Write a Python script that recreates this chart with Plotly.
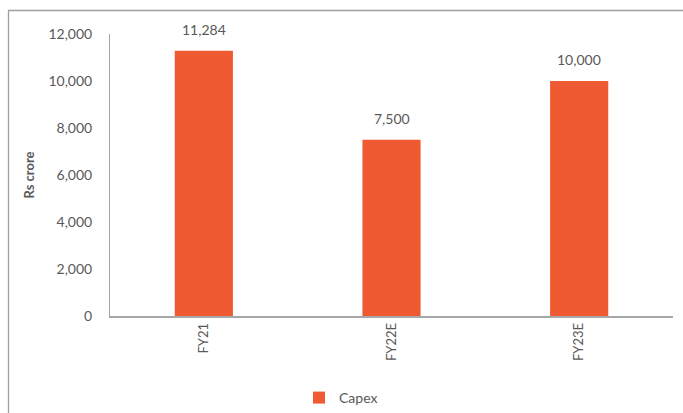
import plotly.graph_objects as go

categories = ["FY21", "FY22E", "FY23E"]
capex = [11284, 7500, 10000]
value_labels = ["11,284", "7,500", "10,000"]
series_name = "Capex"

W, H = 683, 413
ml, mr, mt, mb = 110, 10, 34, 97
pw = W - ml - mr
ph = H - mt - mb

def px_x(x):
    return (x - ml) / pw

def px_y(y):
    return (H - mb - y) / ph

FONT = "Lato"
GRAY = "#595959"
BORDER = "#A0A0A0"

fig = go.Figure()
fig.add_trace(go.Bar(
    x=categories, y=capex, name=series_name,
    marker=dict(color="#F05A32", line=dict(width=0)),
))

for c, v, t in zip(categories, capex, value_labels):
    fig.add_annotation(x=c, y=v, text=t, showarrow=False,
                       yanchor="bottom", yshift=11,
                       font=dict(family=FONT, size=14, color=GRAY))

fig.update_layout(
    width=W, height=H,
    margin=dict(l=ml, r=mr, t=mt, b=mb, autoexpand=False),
    paper_bgcolor="white", plot_bgcolor="white",
    bargap=0.69,
    font=dict(family=FONT, size=14, color=GRAY),
    showlegend=True,
    legend=dict(orientation="h", x=px_x(341), xanchor="center",
                y=px_y(398), yanchor="middle",
                font=dict(family=FONT, size=14, color=GRAY),
                itemwidth=30),
    xaxis=dict(showline=True, linecolor="#A6A6A6", linewidth=1.5,
               tickangle=-90, ticks="", showgrid=False, automargin=False,
               tickfont=dict(family=FONT, size=13, color=GRAY)),
    yaxis=dict(range=[0, 12000], dtick=2000, tickformat=",",
               showline=True, linecolor="#A6A6A6", linewidth=1,
               showgrid=False, ticks="", ticklabelstandoff=14, automargin=False,
               tickfont=dict(family=FONT, size=14, color=GRAY),
               title=dict(text="<b>Rs crore</b>", standoff=10,
                          font=dict(family=FONT, size=13, color=GRAY))),
    shapes=[
        dict(type="line", xref="paper", yref="paper", layer="above",
             x0=px_x(8.5), x1=px_x(8.5), y0=px_y(10.5), y1=px_y(430),
             line=dict(color=BORDER, width=1.3)),
        dict(type="line", xref="paper", yref="paper", layer="above",
             x0=px_x(8), x1=px_x(700), y0=px_y(10.5), y1=px_y(10.5),
             line=dict(color=BORDER, width=1.3)),
    ],
)

fig.write_html("out.html", config={"displayModeBar": False},
               post_script="document.body.style.margin='0';document.body.style.overflow='hidden';")
